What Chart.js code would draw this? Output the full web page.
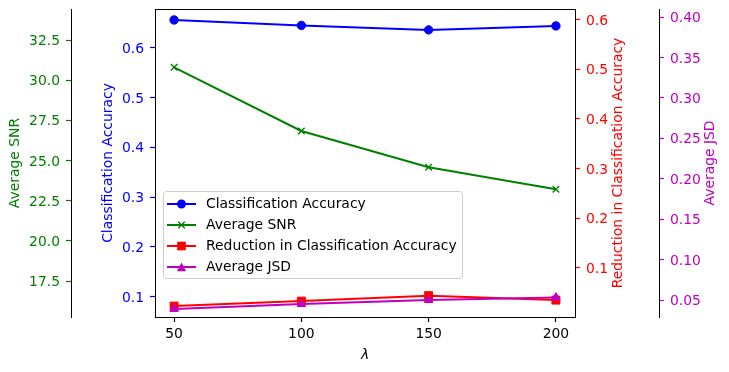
<!DOCTYPE html>
<html><head><meta charset="utf-8">
<script src="https://cdn.jsdelivr.net/npm/chart.js@4/dist/chart.umd.min.js"></script>
<style>html,body{margin:0;padding:0;background:#fff;}</style>
</head><body>
<canvas id="c" width="729" height="372"></canvas>
<script>
const lambdas = [50, 100, 150, 200];
const accuracy = [0.656, 0.645, 0.636, 0.644];
const avgSNR = [30.80, 26.84, 24.58, 23.21];
const reduction = [0.023, 0.033, 0.044, 0.035];
const avgJSD = [0.039, 0.045, 0.050, 0.053];
const accTicks = [0.1, 0.2, 0.3, 0.4, 0.5, 0.6];
const snrTicks = [17.5, 20.0, 22.5, 25.0, 27.5, 30.0, 32.5];
const redTicks = [0.1, 0.2, 0.3, 0.4, 0.5, 0.6];
const jsdTicks = [0.05, 0.10, 0.15, 0.20, 0.25, 0.30, 0.35, 0.40];

const FAM = '"DejaVu Sans", "Liberation Sans", sans-serif';
const FS = 13.9;
const C_BLUE = '#0000ff', C_GREEN = '#008000', C_RED = '#ff0000', C_MAG = '#bf00bf';

function yAxis(opts) {
  return {
    type: 'linear',
    position: opts.position,
    weight: opts.weight,
    min: opts.min, max: opts.max,
    afterBuildTicks: s => { s.ticks = opts.ticks.map(v => ({value: v})); },
    afterFit: s => { s.width = opts.width; s.paddingTop = 0; s.paddingBottom = 0; },
    ticks: { color: opts.color, font: {family: FAM, size: FS}, padding: 6, labelOffset: 1.5,
             callback: v => Number(v).toFixed(opts.dec) },
    grid: { drawOnChartArea: false, drawTicks: true, tickLength: 5, color: opts.color, tickColor: opts.color, tickWidth: 1.2 },
    border: { display: true, color: '#000', width: 1 },
    title: opts.title ? { display: true, text: opts.title, color: opts.color,
             font: {family: FAM, size: FS}, padding: {top: opts.tpad, bottom: 0} } : {display: false}
  };
}

const extras = {
  id: 'extras',
  afterDraw(chart) {
    const ctx = chart.ctx, ca = chart.chartArea;
    ctx.save();
    // top spine
    ctx.strokeStyle = '#000'; ctx.lineWidth = 1;
    ctx.beginPath();
    ctx.moveTo(Math.round(ca.left) + 0.5, Math.round(ca.top) + 0.5);
    ctx.lineTo(Math.round(ca.right) + 0.5, Math.round(ca.top) + 0.5);
    ctx.stroke();
    // right-side titles (rotated to read bottom-to-top)
    const midY = (ca.top + ca.bottom) / 2;
    ctx.font = FS + 'px ' + FAM;
    ctx.textAlign = 'center'; ctx.textBaseline = 'middle';
    const rt = [[chart.scales.yRed, 'Reduction in Classification Accuracy', C_RED, 40.7],
                [chart.scales.yJsd, 'Average JSD', C_MAG, 18.5]];
    rt.forEach(([s, txt, col, off]) => {
      ctx.save();
      ctx.translate(s.right - off, midY);
      ctx.rotate(-Math.PI / 2);
      ctx.fillStyle = col;
      ctx.fillText(txt, 0, 0);
      ctx.restore();
    });
    // legend
    const lx = ca.left + 8, ly = ca.top + 182, lw = 299, lh = 87;
    ctx.beginPath();
    if (ctx.roundRect) ctx.roundRect(lx + 0.5, ly + 0.5, lw, lh, 3); else ctx.rect(lx + 0.5, ly + 0.5, lw, lh);
    ctx.fillStyle = 'rgba(255,255,255,0.8)';
    ctx.fill();
    ctx.strokeStyle = '#cccccc'; ctx.lineWidth = 1;
    ctx.stroke();
    chart.data.datasets.forEach((ds, i) => {
      const ry = ly + 13 + i * 21;
      ctx.strokeStyle = ds.borderColor; ctx.lineWidth = 2;
      ctx.beginPath(); ctx.moveTo(lx + 4, ry); ctx.lineTo(lx + 33, ry); ctx.stroke();
      const mx = lx + 18.5;
      ctx.fillStyle = ds.borderColor; ctx.strokeStyle = ds.borderColor; ctx.lineWidth = 1;
      ctx.beginPath();
      if (ds.pointStyle === 'circle') { ctx.arc(mx, ry, 4.5, 0, Math.PI * 2); ctx.fill(); }
      else if (ds.pointStyle === 'crossRot') { ctx.lineWidth = 1.4; const r = 3.3;
        ctx.moveTo(mx - r, ry - r); ctx.lineTo(mx + r, ry + r); ctx.moveTo(mx - r, ry + r); ctx.lineTo(mx + r, ry - r); ctx.stroke(); }
      else if (ds.pointStyle === 'rect') { ctx.rect(mx - 4.3, ry - 4.3, 8.6, 8.6); ctx.fill(); }
      else if (ds.pointStyle === 'triangle') { ctx.moveTo(mx, ry - 4.6); ctx.lineTo(mx + 4.6, ry + 4.2); ctx.lineTo(mx - 4.6, ry + 4.2); ctx.closePath(); ctx.fill(); }
      ctx.fillStyle = '#000'; ctx.textAlign = 'left'; ctx.textBaseline = 'middle';
      ctx.fillText(ds.label, lx + 43, ry);
    });
    ctx.restore();
  }
};

new Chart(document.getElementById('c'), {
  type: 'line',
  data: {
    datasets: [
      { label: 'Classification Accuracy', data: lambdas.map((x, i) => ({x, y: accuracy[i]})), yAxisID: 'yAcc',
        borderColor: C_BLUE, backgroundColor: C_BLUE, pointStyle: 'circle', pointRadius: 4.2, pointBorderWidth: 1, borderWidth: 2, order: 4 },
      { label: 'Average SNR', data: lambdas.map((x, i) => ({x, y: avgSNR[i]})), yAxisID: 'ySnr',
        borderColor: C_GREEN, backgroundColor: C_GREEN, pointStyle: 'crossRot', pointRadius: 4.6, pointBorderWidth: 1.4, borderWidth: 2, order: 3 },
      { label: 'Reduction in Classification Accuracy', data: lambdas.map((x, i) => ({x, y: reduction[i]})), yAxisID: 'yRed',
        borderColor: C_RED, backgroundColor: C_RED, pointStyle: 'rect', pointRadius: 5.6, pointBorderWidth: 1, borderWidth: 2, order: 2 },
      { label: 'Average JSD', data: lambdas.map((x, i) => ({x, y: avgJSD[i]})), yAxisID: 'yJsd',
        borderColor: C_MAG, backgroundColor: C_MAG, pointStyle: 'triangle', pointRadius: 5, pointBorderWidth: 1, borderWidth: 2, order: 1 }
    ]
  },
  options: {
    responsive: false, animation: false, devicePixelRatio: 1,
    layout: { padding: { top: 9, left: 0, right: 0, bottom: 0 } },
    plugins: { legend: { display: false }, tooltip: { enabled: false } },
    elements: { line: { tension: 0 } },
    scales: {
      x: {
        type: 'linear', position: 'bottom', min: 42.5, max: 207.5,
        afterBuildTicks: s => { s.ticks = lambdas.map(v => ({value: v})); },
        afterFit: s => { s.height = 55; s.paddingLeft = 0; s.paddingRight = 0; },
        ticks: { color: '#000', font: {family: FAM, size: FS}, padding: 4, callback: v => String(v) },
        grid: { drawOnChartArea: false, drawTicks: true, tickLength: 5, color: '#000', tickColor: '#000', tickWidth: 1.2 },
        border: { display: true, color: '#000', width: 1 },
        title: { display: true, text: 'λ', color: '#000', font: {family: FAM, size: FS, style: 'italic'}, padding: {top: 0, bottom: 8} }
      },
      yAcc: yAxis({position: 'left', weight: 0, min: 0.059, max: 0.678, ticks: accTicks, dec: 1, color: C_BLUE, width: 84, title: 'Classification Accuracy', tpad: 28.7}),
      ySnr: yAxis({position: 'left', weight: 1, min: 15.26, max: 34.43, ticks: snrTicks, dec: 1, color: C_GREEN, width: 71, title: 'Average SNR', tpad: 6.9}),
      yRed: yAxis({position: 'right', weight: 0, min: 0.001, max: 0.621, ticks: redTicks, dec: 1, color: C_RED, width: 84, title: null}),
      yJsd: yAxis({position: 'right', weight: 1, min: 0.029, max: 0.410, ticks: jsdTicks, dec: 2, color: C_MAG, width: 70, title: null})
    }
  },
  plugins: [extras]
});
</script>
</body></html>
